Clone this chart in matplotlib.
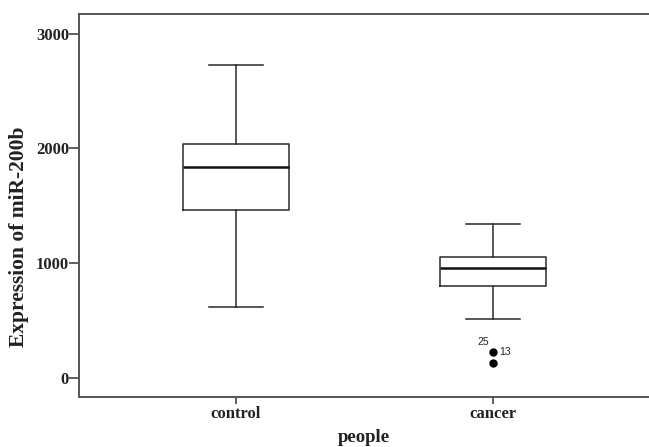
import matplotlib
matplotlib.use("Agg")
import matplotlib.pyplot as plt

categories = ["control", "cancer"]
whisker_low = [616, 509]
q1 = [1459, 797]
median = [1837, 954]
q3 = [2035, 1055]
whisker_high = [2726, 1340]
outliers = [[], [224, 131]]
outlier_labels = [[], ["13", "25"]]

yticks = [0, 1000, 2000, 3000]

fig = plt.figure(figsize=(6.49, 4.47), dpi=100)
ax = fig.add_axes([0.1213, 0.1125, 0.8787, 0.8555])

stats = []
for i, c in enumerate(categories):
    stats.append(dict(label=c, whislo=whisker_low[i], q1=q1[i], med=median[i],
                      q3=q3[i], whishi=whisker_high[i], fliers=outliers[i]))

positions = list(range(1, len(categories) + 1))
ax.bxp(stats, positions=positions, widths=0.41, showfliers=True,
       boxprops=dict(color="#2a2a2a", linewidth=1.1),
       whiskerprops=dict(color="#2a2a2a", linewidth=1.1),
       capprops=dict(color="#2a2a2a", linewidth=1.1),
       medianprops=dict(color="#111111", linewidth=1.8),
       flierprops=dict(marker="o", markerfacecolor="black", markeredgecolor="black",
                       markersize=5, linestyle="none"),
       capwidths=0.21)

# outlier labels (SPSS style case numbers)
for i, pos in enumerate(positions):
    if not outliers[i]:
        continue
    top = outliers[i][0]
    ax.annotate(outlier_labels[i][0], (pos, top), xytext=(4, 0), textcoords="offset points",
                ha="left", va="center", fontsize=7.5, family="Liberation Sans",
                color="#222222")
    ax.annotate(outlier_labels[i][1], (pos, top), xytext=(-7.5, 7.5),
                textcoords="offset points", ha="center", va="center", fontsize=7.5,
                family="Liberation Sans", color="#222222")

ax.set_xlim(0.39, 2.605)
ax.set_ylim(-166, 3168)
ax.set_yticks(yticks)
ax.set_yticklabels([str(t) for t in yticks])
ax.set_xticks(positions)
ax.set_xticklabels(categories)

for lab in ax.get_yticklabels() + ax.get_xticklabels():
    lab.set_fontfamily("Liberation Serif")
    lab.set_fontweight("bold")
    lab.set_fontsize(12)
    lab.set_color("#222222")

ax.tick_params(axis="y", direction="out", length=7, width=1.2, pad=0, color="#444444")
ax.tick_params(axis="x", direction="out", length=5, width=1.2, pad=2, color="#444444")

for s in ["left", "top", "bottom"]:
    ax.spines[s].set_color("#555555")
    ax.spines[s].set_linewidth(1.4)
ax.spines["right"].set_visible(False)

ax.set_ylabel("Expression of miR-200b", family="Liberation Serif", fontweight="bold",
              fontsize=15.5, color="#222222")
ax.yaxis.set_label_coords(-0.088, 0.418)
ax.set_xlabel("people", family="Liberation Serif", fontweight="bold",
              fontsize=13.5, color="#222222", labelpad=4.5)

fig.savefig("out.png", dpi=100)
